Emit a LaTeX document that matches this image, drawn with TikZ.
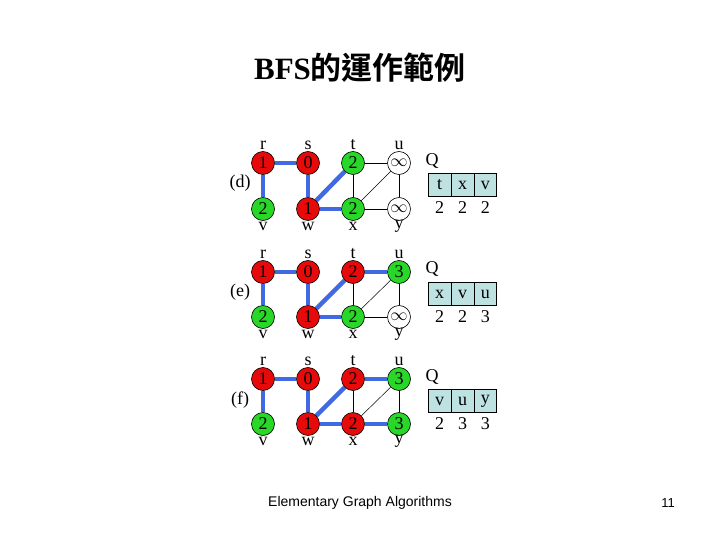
\documentclass[tikz,border=0pt]{standalone}
\usepackage{fontspec}
\setmainfont{Liberation Serif}
\newfontfamily\cjkb{Noto Sans CJK TC Bold}
\newfontfamily\arialf{Liberation Sans}
\pgfdeclarelayer{bg}
\pgfdeclarelayer{paper}
\pgfsetlayers{paper,bg,main}
\definecolor{nred}{RGB}{230,10,10}
\definecolor{ngreen}{RGB}{40,215,40}
\definecolor{qfill}{RGB}{190,225,225}
\definecolor{eblue}{RGB}{65,105,225}
\tikzset{
  vtx/.style={circle,draw=black,line width=0.6pt,minimum size=23pt,inner sep=0pt,font=\fontsize{18}{18}\selectfont},
  rv/.style={vtx,fill=nred},
  gv/.style={vtx,fill=ngreen},
  wv/.style={vtx,fill=white},
  lab/.style={font=\fontsize{18}{18}\selectfont,inner sep=0pt},
  tree/.style={draw=eblue,line width=4.5pt},
  thin/.style={draw=black,line width=0.8pt},
  thinner/.style={draw=black,line width=0.5pt},
  qcell/.style={draw=black,fill=qfill,line width=0.6pt,minimum width=22.8pt,minimum height=23.5pt,inner sep=0pt,font=\fontsize{18}{18}\selectfont},
}
\begin{document}
\begin{tikzpicture}[x=1pt,y=-1pt]
\useasboundingbox (0,0) rectangle (720,540);
\begin{pgfonlayer}{paper}
\fill[white] (0,0) rectangle (720,540);
\end{pgfonlayer}
\node[inner sep=0pt] (title) at (360,68) {\fontsize{31}{31}\selectfont\textbf{BFS}\cjkb 的運作範例};
% ---------- panel d
\node[rv] (dr) at (263,163) {1};
\node[rv] (ds) at (308,163) {0};
\node[gv] (dt) at (353,163) {2};
\node[wv] (du) at (399,163) {$\infty$};
\node[gv] (dv) at (263,209) {2};
\node[rv] (dw) at (308,209) {1};
\node[gv] (dx) at (353,209) {2};
\node[wv] (dy) at (399,209) {$\infty$};
\node[lab] (dlr) at (263,145) {r};
\node[lab] (dls) at (308,145) {s};
\node[lab] (dlt) at (353,145) {t};
\node[lab] (dlu) at (399,145) {u};
\node[lab] (dlv) at (263,226) {v};
\node[lab] (dlw) at (308,226) {w};
\node[lab] (dlx) at (353,226) {x};
\node[lab] (dly) at (399,226) {y};
\node[lab] (dname) at (240,183) {(d)};
\node[lab] (dQ) at (432,161) {Q};
\node[qcell] (dq1) at (439.7,185) {t};
\node[qcell] (dq2) at (462.5,185) {x};
\node[qcell] (dq3) at (485.3,185) {v};
\node[lab] (dn1) at (439.7,208) {2};
\node[lab] (dn2) at (462.5,208) {2};
\node[lab] (dn3) at (485.3,208) {2};
\begin{pgfonlayer}{bg}
\draw[tree] (dr) -- (ds);
\draw[tree] (dr) -- (dv);
\draw[tree] (ds) -- (dw);
\draw[tree] (dw) -- (dt);
\draw[tree] (dw) -- (dx);
\draw[thin] (dt) -- (du);
\draw[thin] (dt) -- (dx);
\draw[thinner] (dx) -- (du);
\draw[thin] (du) -- (dy);
\draw[thin] (dx) -- (dy);
\end{pgfonlayer}
% ---------- panel e
\node[rv] (er) at (263,272) {1};
\node[rv] (es) at (308,272) {0};
\node[rv] (et) at (353,272) {2};
\node[gv] (eu) at (399,272) {3};
\node[gv] (ev) at (263,317) {2};
\node[rv] (ew) at (308,317) {1};
\node[gv] (ex) at (353,317) {2};
\node[wv] (ey) at (399,317) {$\infty$};
\node[lab] (elr) at (263,254) {r};
\node[lab] (els) at (308,254) {s};
\node[lab] (elt) at (353,254) {t};
\node[lab] (elu) at (399,254) {u};
\node[lab] (elv) at (263,334) {v};
\node[lab] (elw) at (308,334) {w};
\node[lab] (elx) at (353,334) {x};
\node[lab] (ely) at (399,334) {y};
\node[lab] (ename) at (240,292) {(e)};
\node[lab] (eQ) at (432,269) {Q};
\node[qcell] (eq1) at (439.7,294) {x};
\node[qcell] (eq2) at (462.5,294) {v};
\node[qcell] (eq3) at (485.3,294) {u};
\node[lab] (en1) at (439.7,317) {2};
\node[lab] (en2) at (462.5,317) {2};
\node[lab] (en3) at (485.3,317) {3};
\begin{pgfonlayer}{bg}
\draw[tree] (er) -- (es);
\draw[tree] (er) -- (ev);
\draw[tree] (es) -- (ew);
\draw[tree] (ew) -- (et);
\draw[tree] (ew) -- (ex);
\draw[tree] (et) -- (eu);
\draw[thin] (et) -- (ex);
\draw[thinner] (ex) -- (eu);
\draw[thin] (eu) -- (ey);
\draw[thin] (ex) -- (ey);
\end{pgfonlayer}
% ---------- panel f
\node[rv] (fr) at (263,379) {1};
\node[rv] (fs) at (308,379) {0};
\node[rv] (ft) at (353,379) {2};
\node[gv] (fu) at (399,379) {3};
\node[gv] (fv) at (263,424) {2};
\node[rv] (fw) at (308,424) {1};
\node[rv] (fx) at (353,424) {2};
\node[gv] (fy) at (399,424) {3};
\node[lab] (flr) at (263,361) {r};
\node[lab] (fls) at (308,361) {s};
\node[lab] (flt) at (353,361) {t};
\node[lab] (flu) at (399,361) {u};
\node[lab] (flv) at (263,441) {v};
\node[lab] (flw) at (308,441) {w};
\node[lab] (flx) at (353,441) {x};
\node[lab] (fly) at (399,441) {y};
\node[lab] (fname) at (240,400) {(f)};
\node[lab] (fQ) at (432,377) {Q};
\node[qcell] (fq1) at (439.7,401) {v};
\node[qcell] (fq2) at (462.5,401) {u};
\node[qcell] (fq3) at (485.3,401) {y};
\node[lab] (fn1) at (439.7,424) {2};
\node[lab] (fn2) at (462.5,424) {3};
\node[lab] (fn3) at (485.3,424) {3};
\begin{pgfonlayer}{bg}
\draw[tree] (fr) -- (fs);
\draw[tree] (fr) -- (fv);
\draw[tree] (fs) -- (fw);
\draw[tree] (fw) -- (ft);
\draw[tree] (fw) -- (fx);
\draw[tree] (ft) -- (fu);
\draw[tree] (fx) -- (fy);
\draw[thin] (ft) -- (fx);
\draw[thinner] (fx) -- (fu);
\draw[thin] (fu) -- (fy);
\end{pgfonlayer}
% footer
\node[inner sep=0pt,font=\arialf\fontsize{14}{14}\selectfont] (foot) at (360,503) {Elementary Graph Algorithms};
\node[inner sep=0pt,font=\arialf\fontsize{13}{13}\selectfont] (pnum) at (668,503) {11};
\end{tikzpicture}
\end{document}
